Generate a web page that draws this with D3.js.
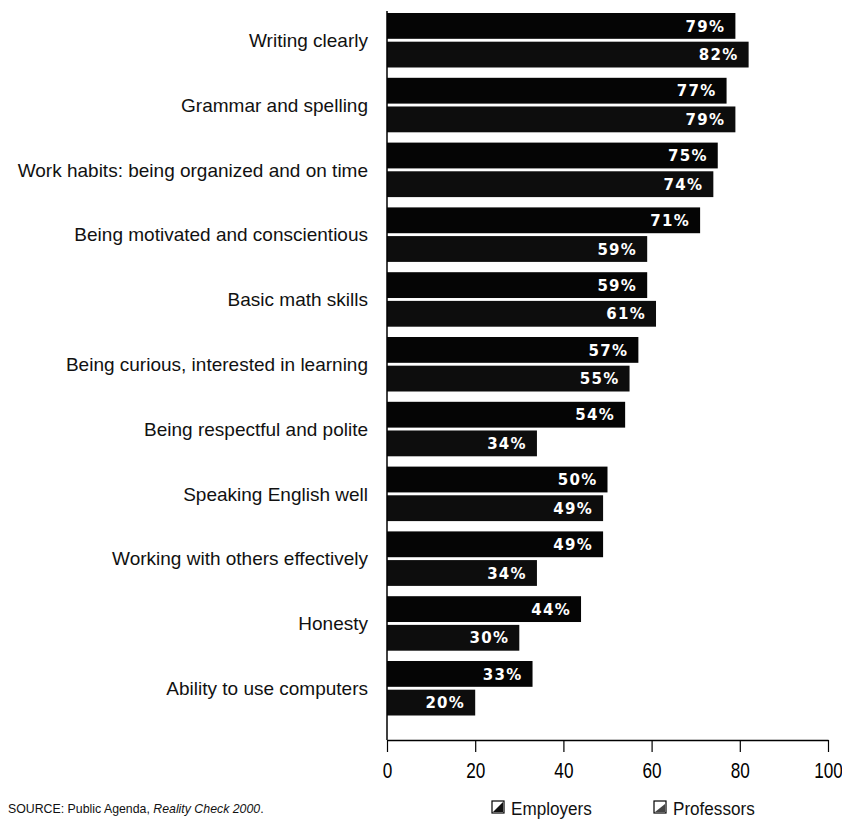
<!DOCTYPE html>
<html><head><meta charset="utf-8">
<script src="https://cdn.jsdelivr.net/npm/d3@7"></script>
<style>body{margin:0;background:#fff}</style>
</head><body>
<svg id="c" width="842" height="821"></svg>
<script>
const categories = ["Writing clearly","Grammar and spelling","Work habits: being organized and on time","Being motivated and conscientious","Basic math skills","Being curious, interested in learning","Being respectful and polite","Speaking English well","Working with others effectively","Honesty","Ability to use computers"];
const seriesNames = ["Employers","Professors"];
const employers = [79,77,75,71,59,57,54,50,49,44,33];
const professors = [82,79,74,59,61,55,34,49,34,30,20];
const xTicks = [0,20,40,60,80,100];
const seriesColors = ["#050505","#0d0d0d"];

const svg = d3.select("#c");
const x = d3.scaleLinear().domain([0,100]).range([387,828]);
const y = d3.scaleBand().domain(categories).range([13,715.5]).paddingInner(0.159).paddingOuter(0);
const y1 = d3.scaleBand().domain(seriesNames).range([0,y.bandwidth()]).paddingInner(0.1);
const color = d3.scaleOrdinal().domain(seriesNames).range(seriesColors);

const rows = categories.map((c,i)=>({cat:c, vals:[{s:"Employers",v:employers[i]},{s:"Professors",v:professors[i]}]}));

const g = svg.selectAll("g.cat").data(rows).join("g").attr("class","cat")
  .attr("transform",d=>`translate(0,${y(d.cat)})`);
g.selectAll("rect").data(d=>d.vals).join("rect")
  .attr("x",x(0)).attr("y",d=>y1(d.s)).attr("width",d=>x(d.v)-x(0)).attr("height",y1.bandwidth())
  .attr("fill",d=>color(d.s));
g.selectAll("text.val").data(d=>d.vals).join("text").attr("class","val")
  .attr("x",d=>x(d.v)-10).attr("y",d=>y1(d.s)+y1.bandwidth()/2).attr("dy","0.38em")
  .attr("text-anchor","end").attr("fill","#fff")
  .style("font-family","'DejaVu Sans',sans-serif").style("font-weight","bold").style("font-size","15px").style("letter-spacing","1.3px")
  .text(d=>d.v+"%");

// category labels
svg.append("g").selectAll("text").data(categories).join("text")
  .attr("x",368).attr("y",d=>y(d)+y.bandwidth()/2).attr("dy","0.36em").attr("text-anchor","end")
  .style("font-family","'Liberation Sans',Arial,sans-serif").style("font-size","19px").attr("fill","#111")
  .text(d=>d);

// left axis line
svg.append("line").attr("x1",x(0)).attr("x2",x(0)).attr("y1",11).attr("y2",740).attr("stroke","#000").attr("stroke-width",1.5);

// x axis
const xa = svg.append("g").attr("transform","translate(0,740)")
  .call(d3.axisBottom(x).tickValues(xTicks).tickSize(12).tickSizeOuter(0).tickFormat(d3.format("d")));
xa.select(".domain").attr("stroke","#000").attr("stroke-width",1.5);
xa.selectAll(".tick line").attr("stroke","#000").attr("stroke-width",1.2);
xa.selectAll(".tick text").attr("y",0).attr("dy",0).attr("fill","#000")
  .attr("transform","translate(0,38) scale(0.78,1)")
  .style("font-family","'Liberation Sans',Arial,sans-serif").style("font-size","22px");

// source
const src = svg.append("text").attr("x",8).attr("y",813)
  .attr("transform","translate(8,0) scale(0.95,1) translate(-8,0)")
  .style("font-family","'Liberation Sans',Arial,sans-serif").style("font-size","13px").attr("fill","#111");
src.append("tspan").text("SOURCE: Public Agenda, ");
src.append("tspan").style("font-style","italic").text("Reality Check 2000");
src.append("tspan").text(".");

// legend
const legX = [492,654];
const leg = svg.append("g").selectAll("g").data(seriesNames).join("g")
  .attr("transform",(d,i)=>`translate(${legX[i]},801)`);
leg.append("rect").attr("width",12).attr("height",12).attr("fill","#fff").attr("stroke","#000").attr("stroke-width",1.2);
leg.append("path").attr("d",(d,i)=> i===0 ? "M1,11 L11,1 L11,11 Z" : "M1,11 L11,3 L11,11 Z").attr("fill",(d,i)=> i===0 ? "#111" : "#444");
leg.append("text").attr("x",0).attr("y",0)
  .attr("transform","translate(19,14) scale(0.9,1)")
  .style("font-family","'Liberation Sans',Arial,sans-serif").style("font-size","19px").attr("fill","#111")
  .text(d=>d);
</script>
</body></html>
